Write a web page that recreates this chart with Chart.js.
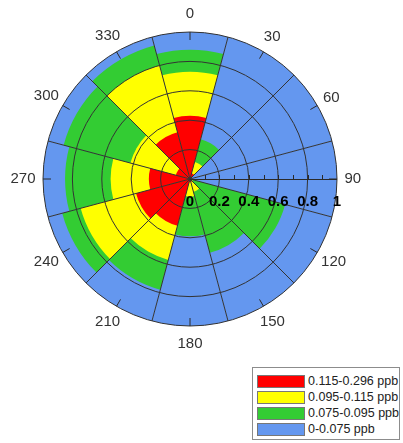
<!DOCTYPE html>
<html>
<head>
<meta charset="utf-8">
<script src="https://cdn.jsdelivr.net/npm/chart.js@4.4.1/dist/chart.umd.min.js"></script>
<style>
  html, body { margin: 0; padding: 0; background: #fff; }
  #wrap { position: relative; width: 403px; height: 443px; }
  #rose { position: absolute; left: 0; top: 0; }
  #legend {
    position: absolute; left: 252px; top: 367px; width: 148px; height: 73px;
    border: 1px solid #8c8c8c; background: #fff; box-sizing: border-box; padding-top: 5px;
    font-family: "Liberation Sans", Arial, sans-serif; font-size: 12.5px; color: #222;
  }
  .row { display: flex; align-items: center; height: 16px; white-space: nowrap; }
  .sw { width: 48px; height: 13px; margin: 0 3px 0 4px; border: 1px solid #777; box-sizing: border-box; }
</style>
</head>
<body>
<div id="wrap">
  <canvas id="rose" width="403" height="443"></canvas>
  <div id="legend"></div>
</div>
<script>
// wind directions (sector centres, degrees)
const directions = [0, 30, 60, 90, 120, 150, 180, 210, 240, 270, 300, 330];

// fraction of each concentration bin per direction
const bins = ['0.115-0.296 ppb', '0.095-0.115 ppb', '0.075-0.095 ppb', '0-0.075 ppb'];
const redBin    = [0.43, 0.04, 0, 0, 0,    0.02, 0.02, 0.33, 0.38, 0.28, 0.10, 0.33];
const yellowBin = [0.30, 0.08, 0, 0, 0.02, 0.07, 0.10, 0.24, 0.39, 0.26, 0.32, 0.47];
const greenBin  = [0.15, 0.16, 0, 0, 0.65, 0.43, 0.27, 0.21, 0.13, 0.31, 0.47, 0.14];
const blueBin   = [0.12, 0.72, 1, 1, 0.33, 0.48, 0.61, 0.22, 0.10, 0.15, 0.11, 0.06];

// radial axis
const radialTicks = [0, 0.2, 0.4, 0.6, 0.8, 1];
const radialTickLabels = ['0', '0.2', '0.4', '0.6', '0.8', '1'];
const minorTicks = [0.1, 0.2, 0.3, 0.4, 0.5, 0.6, 0.7, 0.8, 0.9];

const binColors = ['#ff0000', '#ffff00', '#33cc33', '#6497ef'];

// stack the bins: each ring is drawn from the centre out to its cumulative value
const series = [redBin, yellowBin, greenBin, blueBin];
const stacked = series.map((s, k) => directions.map((d, i) => {
  let sum = 0;
  for (let j = 0; j <= k; j++) sum += series[j][i];
  return Math.min(1, sum);
}));

const roseDecor = {
  id: 'roseDecor',
  afterDraw(chart) {
    const s = chart.scales.r;
    const ctx = chart.ctx;
    const cx = s.xCenter, cy = s.yCenter, R = s.drawingArea;
    ctx.save();
    ctx.strokeStyle = '#2a2a2a';
    ctx.lineWidth = 1;

    // axis along 90 deg with minor ticks
    ctx.beginPath();
    ctx.moveTo(cx, cy + 0.5);
    ctx.lineTo(cx + R, cy + 0.5);
    minorTicks.forEach(v => {
      const x = Math.round(cx + s.getDistanceFromCenterForValue(v)) + 0.5;
      ctx.moveTo(x, cy);
      ctx.lineTo(x, cy - 4);
    });
    // small ticks on the rim at each direction
    directions.forEach(d => {
      const a = d * Math.PI / 180;
      ctx.moveTo(cx + R * Math.sin(a), cy - R * Math.cos(a));
      ctx.lineTo(cx + (R - 8) * Math.sin(a), cy - (R - 8) * Math.cos(a));
    });
    ctx.stroke();

    // radial tick labels under the axis
    ctx.font = 'bold 15px "Liberation Sans", Arial, sans-serif';
    ctx.fillStyle = '#000';
    ctx.textAlign = 'center';
    ctx.textBaseline = 'middle';
    radialTicks.forEach((v, i) => {
      ctx.fillText(radialTickLabels[i], cx + s.getDistanceFromCenterForValue(v), cy + 23);
    });

    // direction labels round the rim
    ctx.font = '15px "Liberation Sans", Arial, sans-serif';
    ctx.fillStyle = '#333';
    directions.forEach(d => {
      const a = d * Math.PI / 180;
      const txt = String(d);
      const w = ctx.measureText(txt).width;
      const sn = Math.abs(Math.sin(a)), cs = Math.abs(Math.cos(a));
      const dist = R + 16 + Math.pow(sn, 3) * (w / 2 - 8.5) + Math.pow(cs, 3) * 2;
      ctx.fillText(txt, cx + dist * Math.sin(a), cy - dist * Math.cos(a));
    });
    ctx.restore();
  }
};

new Chart(document.getElementById('rose'), {
  type: 'polarArea',
  data: {
    labels: directions.map(String),
    datasets: bins.map((b, k) => ({
      label: b,
      data: stacked[k],
      backgroundColor: binColors[k],
      borderWidth: 0
    }))
  },
  options: {
    responsive: false,
    animation: false,
    layout: { padding: { left: 43, top: 32, right: 66, bottom: 117 } },
    plugins: {
      legend: { display: false },
      tooltip: { enabled: false }
    },
    scales: {
      r: {
        min: 0,
        max: 1,
        startAngle: -15,
        ticks: { display: false, stepSize: 0.2 },
        grid: { z: 1, color: '#333', lineWidth: 1 },
        angleLines: { display: true, color: '#333', lineWidth: 1 },
        pointLabels: { display: false }
      }
    }
  },
  plugins: [roseDecor]
});

// legend box
const legend = document.getElementById('legend');
bins.forEach((b, k) => {
  const row = document.createElement('div');
  row.className = 'row';
  const sw = document.createElement('span');
  sw.className = 'sw';
  sw.style.background = binColors[k];
  const t = document.createElement('span');
  t.textContent = b;
  row.appendChild(sw);
  row.appendChild(t);
  legend.appendChild(row);
});
</script>
</body>
</html>
